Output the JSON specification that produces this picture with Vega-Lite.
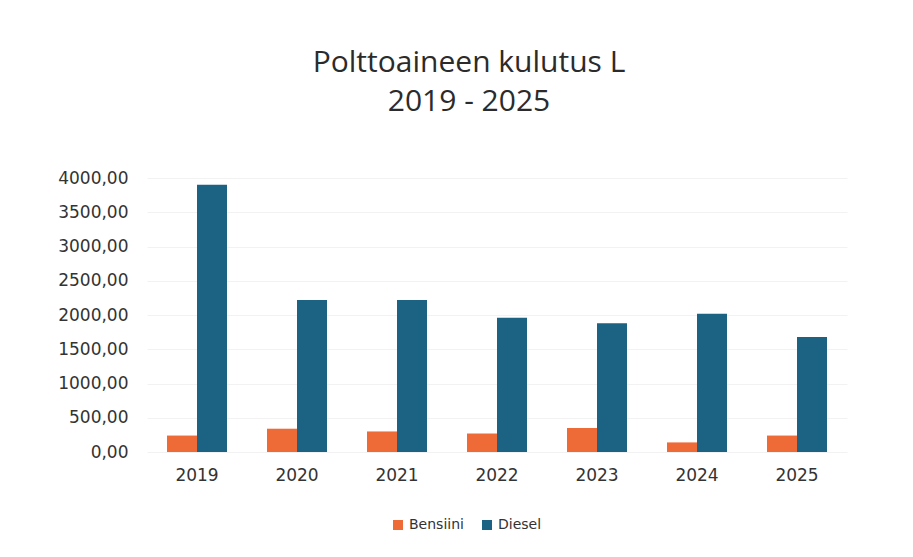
{
  "$schema": "https://vega.github.io/schema/vega-lite/v6.json",
  "autosize": "none",
  "padding": {"left": 147, "top": 178, "right": 66, "bottom": 105},
  "width": 700,
  "height": 274,
  "background": "white",
  "title": {
    "text": ["Polttoaineen kulutus L", "2019 - 2025"],
    "font": "Open Sans",
    "fontSize": 30,
    "fontWeight": "normal",
    "color": "#2b2b2b",
    "lineHeight": 39,
    "anchor": "middle",
    "dx": -28,
    "offset": 52
  },
  "data": {
    "values": [
      {"year": "2019", "fuel": "Bensiini", "value": 240},
      {"year": "2019", "fuel": "Diesel", "value": 3900},
      {"year": "2020", "fuel": "Bensiini", "value": 340},
      {"year": "2020", "fuel": "Diesel", "value": 2220},
      {"year": "2021", "fuel": "Bensiini", "value": 300},
      {"year": "2021", "fuel": "Diesel", "value": 2220},
      {"year": "2022", "fuel": "Bensiini", "value": 270},
      {"year": "2022", "fuel": "Diesel", "value": 1960},
      {"year": "2023", "fuel": "Bensiini", "value": 350},
      {"year": "2023", "fuel": "Diesel", "value": 1880},
      {"year": "2024", "fuel": "Bensiini", "value": 140},
      {"year": "2024", "fuel": "Diesel", "value": 2020},
      {"year": "2025", "fuel": "Bensiini", "value": 240},
      {"year": "2025", "fuel": "Diesel", "value": 1680}
    ]
  },
  "mark": {"type": "bar"},
  "encoding": {
    "x": {
      "field": "year",
      "type": "nominal",
      "scale": {"paddingInner": 0.4, "paddingOuter": 0.2},
      "axis": {
        "title": null,
        "labelAngle": 0,
        "labelFont": "DejaVu Sans",
        "labelFontSize": 17,
        "labelColor": "#333333",
        "labelPadding": 15,
        "domain": false,
        "ticks": false
      }
    },
    "xOffset": {"field": "fuel", "type": "nominal", "scale": {"paddingInner": 0}},
    "y": {
      "field": "value",
      "type": "quantitative",
      "scale": {"domain": [0, 4000], "nice": false},
      "axis": {
        "title": null,
        "values": [0, 500, 1000, 1500, 2000, 2500, 3000, 3500, 4000],
        "labelExpr": "replace(format(datum.value, '.2f'), '.', ',')",
        "labelFont": "DejaVu Sans",
        "labelFontSize": 17,
        "labelColor": "#333333",
        "labelPadding": 19,
        "domain": false,
        "ticks": false,
        "gridColor": "#f2f2f2"
      }
    },
    "color": {
      "field": "fuel",
      "type": "nominal",
      "scale": {"domain": ["Bensiini", "Diesel"], "range": ["#ee6a36", "#1c6283"]},
      "legend": {
        "title": null,
        "orient": "none",
        "direction": "horizontal",
        "legendX": 244,
        "legendY": 340,
        "symbolType": "square",
        "symbolSize": 100,
        "labelFont": "DejaVu Sans",
        "labelFontSize": 14,
        "labelColor": "#333333",
        "columnPadding": 16
      }
    }
  },
  "config": {"view": {"stroke": null}}
}
